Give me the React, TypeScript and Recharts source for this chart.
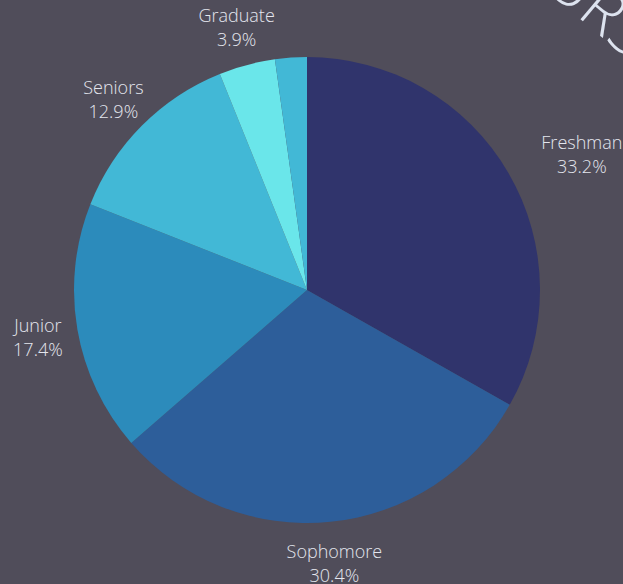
import { PieChart, Pie, Cell } from 'recharts';

const classes = ['Freshman', 'Sophomore', 'Junior', 'Seniors', 'Graduate', 'Other'];
const shares = [33.2, 30.4, 17.4, 12.9, 3.9, 2.2];
const colors = ['#30346c', '#2d5e9a', '#2c8bbb', '#42b8d6', '#6ae6ea', '#42b8d6'];
const showLabel = [true, true, true, true, true, false];

const data = classes.map((name, i) => ({ name, value: shares[i] }));

const RADIAN = Math.PI / 180;

const renderLabel = (props: any) => {
    const { cx, cy, midAngle, outerRadius, index } = props;
    if (!showLabel[index]) return null;
    const r = outerRadius + 40;
    const cos = Math.cos(-midAngle * RADIAN);
    // côté droit : le libellé part du point, centré sur lui-même
    const x = cx + r * cos + (cos > 0.5 ? 39 : 0);
    const y = cy + r * Math.sin(-midAngle * RADIAN);
    return (
        <text x={x} y={y} fill="#e4e6ee" textAnchor="middle" fontSize={18}
            fontFamily="'Open Sans', sans-serif" fontWeight={300}>
            <tspan x={x} dy={-4}>{data[index].name}</tspan>
            <tspan x={x} dy={24}>{shares[index]}%</tspan>
        </text>
    );
};

export default function App() {
    return (
        <div style={{ position: 'fixed', left: 0, top: 0, width: 623, height: 584, background: '#504d5a', overflow: 'hidden' }}>
            {/* bout de titre coupé en haut à droite */}
            <div style={{
                position: 'absolute', left: 584, top: -64, fontSize: 62, fontFamily: "'Open Sans', sans-serif",
                fontWeight: 300, color: '#dde3ef', transform: 'rotate(40deg)', transformOrigin: 'left top', whiteSpace: 'nowrap'
            }}>URS</div>
            <PieChart width={623} height={584}>
                <Pie data={data} dataKey="value" cx={302} cy={285} outerRadius={233} startAngle={90} endAngle={-270}
                    stroke="none" label={renderLabel} labelLine={false} isAnimationActive={false}>
                    {data.map((d, i) => <Cell key={d.name} fill={colors[i]} />)}
                </Pie>
            </PieChart>
        </div>
    );
}
